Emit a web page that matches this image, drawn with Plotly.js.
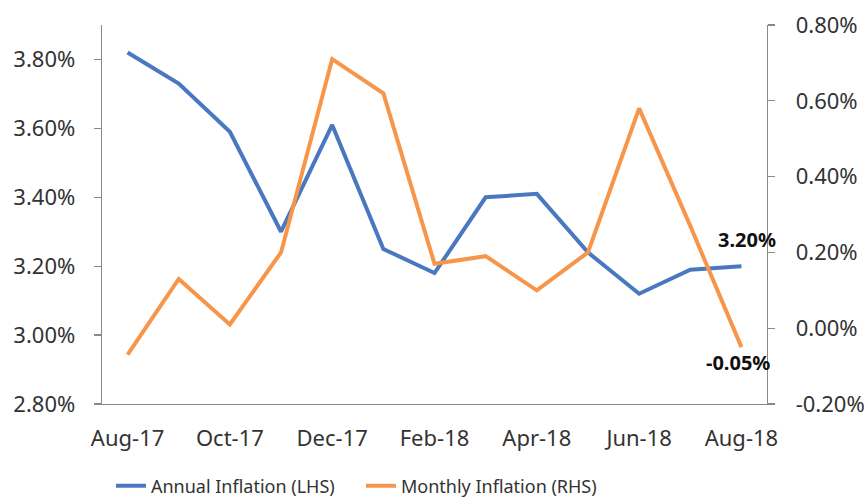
<!DOCTYPE html>
<html>
<head>
<meta charset="utf-8">
<script src="https://cdn.plot.ly/plotly-3.0.1.min.js"></script>
<style>html,body{margin:0;padding:0;background:#fff;}#chart{width:867px;height:502px;}</style>
</head>
<body>
<div id="chart"></div>
<script>
// Data (percent units)
const months = ["Aug-17","Sep-17","Oct-17","Nov-17","Dec-17","Jan-18","Feb-18","Mar-18","Apr-18","May-18","Jun-18","Jul-18","Aug-18"];
const annualInflation = [3.82, 3.73, 3.59, 3.30, 3.61, 3.25, 3.18, 3.40, 3.41, 3.24, 3.12, 3.19, 3.20];
const monthlyInflation = [-0.07, 0.13, 0.01, 0.20, 0.71, 0.62, 0.17, 0.19, 0.10, 0.20, 0.58, 0.27, -0.05];
const xTickLabels = ["Aug-17","Oct-17","Dec-17","Feb-18","Apr-18","Jun-18","Aug-18"];
const leftTicks = [2.8, 3.0, 3.2, 3.4, 3.6, 3.8];
const leftTickText = ["2.80%","3.00%","3.20%","3.40%","3.60%","3.80%"];
const rightTicks = [-0.2, 0.0, 0.2, 0.4, 0.6, 0.8];
const rightTickText = ["-0.20%","0.00%","0.20%","0.40%","0.60%","0.80%"];
const seriesNames = ["Annual Inflation (LHS)", "Monthly Inflation (RHS)"];

const blue = "#4a78c0";
const orange = "#f7964a";
const axisColor = "#888888";
const textColor = "#333333";
const fontFam = "Noto Sans, Open Sans, sans-serif";

const idx = months.map((m, i) => i);
const boundaryTicks = xTickLabels.map(l => months.indexOf(l) - 0.5);
const labelTicks = xTickLabels.map(l => months.indexOf(l));

const traces = [
  {x: idx, y: annualInflation, name: seriesNames[0], type: "scatter", mode: "lines",
   line: {color: blue, width: 4}, yaxis: "y"},
  {x: idx, y: monthlyInflation, name: seriesNames[1], type: "scatter", mode: "lines",
   line: {color: orange, width: 4}, yaxis: "y2"}
];

const last = months.length - 1;

const layout = {
  width: 867, height: 502,
  margin: {l: 102, r: 100, t: 25, b: 98, autoexpand: false},
  paper_bgcolor: "#fff", plot_bgcolor: "#fff",
  font: {family: fontFam, size: 22, color: textColor},
  showlegend: true,
  legend: {orientation: "h", xref: "container", x: 0.128, xanchor: "left",
           yref: "container", y: 0.032, yanchor: "middle",
           font: {size: 18, color: textColor}, entrywidth: 205, traceorder: "normal"},
  xaxis: {
    range: [-0.5, months.length - 0.5], tickmode: "array",
    tickvals: labelTicks, ticktext: xTickLabels, ticks: "",
    showline: true, linecolor: axisColor, linewidth: 1.3, showgrid: false, zeroline: false,
    ticklabelstandoff: 14, tickfont: {size: 22, color: textColor}
  },
  xaxis2: {
    overlaying: "x", anchor: "y", side: "bottom",
    range: [-0.5, months.length - 0.5], tickmode: "array", tickvals: boundaryTicks,
    ticks: "outside", ticklen: 7, tickcolor: axisColor, tickwidth: 1.3,
    showticklabels: false, showline: false, showgrid: false, zeroline: false
  },
  yaxis: {
    range: [2.8, 3.9], tickmode: "array", tickvals: leftTicks, ticktext: leftTickText,
    ticks: "outside", ticklen: 7, tickcolor: axisColor, tickwidth: 1.3,
    showline: true, linecolor: axisColor, linewidth: 1.3, showgrid: false, zeroline: false,
    ticklabelstandoff: 14, tickfont: {size: 22, color: textColor}
  },
  yaxis2: {
    overlaying: "y", side: "right", anchor: "x",
    range: [-0.2, 0.8], tickmode: "array", tickvals: rightTicks, ticktext: rightTickText,
    ticks: "outside", ticklen: 7, tickcolor: axisColor, tickwidth: 1.3,
    showline: true, linecolor: axisColor, linewidth: 1.3, showgrid: false, zeroline: false,
    ticklabelstandoff: 16, tickfont: {size: 22, color: textColor}
  },
  annotations: [
    {x: last, y: annualInflation[last], xref: "x", yref: "y",
     text: "<b>" + annualInflation[last].toFixed(2) + "%</b>", showarrow: false,
     xshift: 6, yshift: 27, font: {size: 20, color: "#111"}},
    {x: last, y: monthlyInflation[last], xref: "x", yref: "y2",
     text: "<b>-" + Math.abs(monthlyInflation[last]).toFixed(2) + "%</b>", showarrow: false,
     xshift: -3, yshift: -15, font: {size: 20, color: "#111"}}
  ]
};

Plotly.newPlot("chart", traces, layout, {displayModeBar: false, staticPlot: true});
</script>
</body>
</html>
